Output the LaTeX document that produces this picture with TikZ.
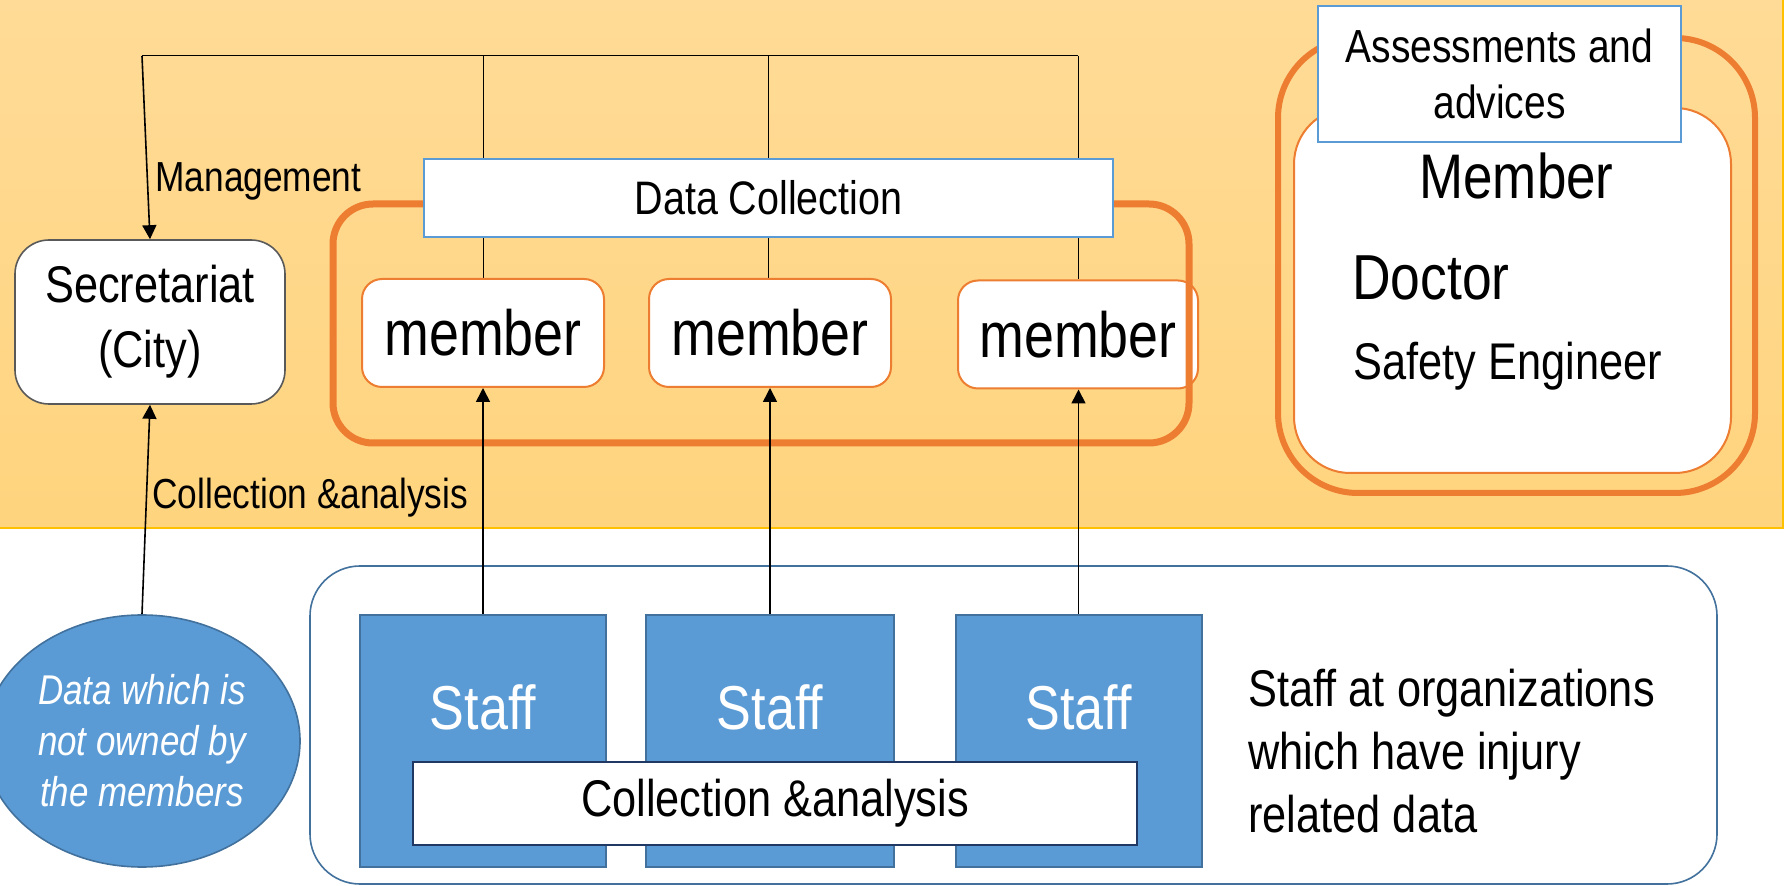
\documentclass[tikz,border=0pt]{standalone}
\usepackage{fontspec}
\setmainfont{Liberation Sans}[FakeStretch=0.84]
\usetikzlibrary{arrows.meta,shapes.geometric}
\definecolor{bgtop}{HTML}{FFDB97}
\definecolor{bgbot}{HTML}{FFD47E}
\definecolor{gold}{HTML}{FFC000}
\definecolor{orng}{HTML}{ED7D31}
\definecolor{lblue}{HTML}{5B9BD5}
\definecolor{dblue}{HTML}{41719C}
\definecolor{navy}{HTML}{203864}
\definecolor{grayb}{HTML}{595959}
\pgfdeclarelayer{back}
\pgfdeclarelayer{lines}
\pgfsetlayers{back,lines,main}
\tikzset{
  secbox/.style={draw=grayb, fill=white, line width=0.8pt, rounded corners=17pt, inner sep=0pt,
    minimum width=135pt, minimum height=82pt, align=center, font=\fontsize{25.8}{32.5}\selectfont},
  membox/.style={draw=orng, fill=white, line width=1pt, rounded corners=10pt, inner sep=0pt,
    minimum width=121pt, minimum height=54pt, font=\fontsize{32}{40}\selectfont},
  titlebox/.style={draw=lblue, fill=white, line width=1.2pt, inner sep=0pt, align=center},
  staffbox/.style={draw=dblue, fill=lblue, line width=1pt, inner sep=0pt,
    minimum width=123pt, minimum height=126pt},
  stafftext/.style={text=white, anchor=base, inner sep=0pt, font=\fontsize{31}{38}\selectfont},
  conn/.style={draw=black, line width=0.5pt},
  arr/.style={draw=black, line width=0.8pt, -{Triangle[length=7pt,width=7pt]}},
  lbl/.style={anchor=base west, inner sep=0pt},
}
\begin{document}
\begin{tikzpicture}[x=0.5pt,y=-0.5pt]
\useasboundingbox (0,0) rectangle (1787,886);
\begin{pgfonlayer}{back}
  \shade[top color=bgtop, bottom color=bgbot] (0,0) rectangle (1783,528);
  \draw[gold, line width=0.6pt] (0,528) -- (1783,528) -- (1783,0);
\end{pgfonlayer}

% left: secretariat
\node[secbox] (sec) at (150,322) {Secretariat\\(City)};

% members
\node[membox] (mem1) at (483,333) {member};
\node[membox] (mem2) at (770,333) {member};
\node[membox, minimum width=120pt] (mem3) at (1078,334.5) {member};

% big orange group frame
\node[draw=orng, line width=3.5pt, rounded corners=20pt, inner sep=0pt,
      minimum width=428pt, minimum height=119.5pt] (grpA) at (761,323.5) {};

% Data collection title
\node[titlebox, minimum width=344.5pt, minimum height=39pt, font=\fontsize{23.5}{28}\selectfont]
   (dc) at (768.5,198) {Data Collection};

% top management lines
\coordinate (tl) at (142,56);
\coordinate (b1) at (483,56);
\coordinate (b2) at (768,56);
\coordinate (b3) at (1078,56);
\begin{pgfonlayer}{lines}
  \draw[conn] (tl) -- (b3);
  \draw[conn] (b1) -- (mem1.north);
  \draw[conn] (b2) -- (b2 |- mem2.north);
  \draw[conn] (b3) -- (mem3.north);
\end{pgfonlayer}
\draw[arr] (tl) -- (sec.north);
\node[lbl, font=\fontsize{21}{27}\selectfont] (mgmt) at (155,192) {Management};

% right group
\node[draw=orng, line width=3pt, rounded corners=40pt, inner sep=0pt,
      minimum width=238.5pt, minimum height=227.5pt] (grpB) at (1516.5,265.5) {};
\node[draw=orng, fill=white, line width=1pt, rounded corners=28pt, inner sep=0pt,
      minimum width=218.5pt, minimum height=182.5pt] (inner) at (1512.5,290.5) {};
\node[titlebox, minimum width=181.5pt, minimum height=68pt, font=\fontsize{23.2}{28}\selectfont]
   (assess) at (1499.5,74) {Assessments and\\advices};
\node[lbl, font=\fontsize{31.5}{36}\selectfont] (rmember) at (1419,199) {Member};
\node[lbl, font=\fontsize{31.8}{36}\selectfont] (rdoctor) at (1352,300) {Doctor};
\node[lbl, font=\fontsize{25.8}{30}\selectfont] (rsafety) at (1353,380) {Safety Engineer};

% bottom group
\node[draw=dblue, fill=white, line width=0.8pt, rounded corners=25pt, inner sep=0pt,
      minimum width=703.5pt, minimum height=159pt] (grpC) at (1013.5,725) {};
\node[staffbox] (st1) at (483,741) {};
\node[staffbox, minimum width=124pt] (st2) at (770,741) {};
\node[staffbox] (st3) at (1078.5,741) {};
\node[stafftext] (st1t) at (483,729) {Staff};
\node[stafftext] (st2t) at (770,729) {Staff};
\node[stafftext] (st3t) at (1078.5,729) {Staff};
\node[draw=navy, fill=white, line width=1pt, inner sep=0pt, minimum width=362pt, minimum height=41.5pt,
      font=\fontsize{25.8}{31}\selectfont] (coll) at (775,803.5) {Collection \&analysis};
\node[anchor=west, align=left, inner sep=0pt, font=\fontsize{25.8}{31.5}\selectfont]
   (orgs) at (1248,751) {Staff at organizations\\which have injury\\related data};

\draw[arr] (st1.north) -- (mem1.south);
\draw[arr] (st2.north) -- (mem2.south);
\draw[arr] (st3.north) -- (st3.north |- mem3.south);

% ellipse
\node[ellipse, draw=dblue, fill=lblue, line width=0.8pt, inner sep=0pt, minimum width=158pt, minimum height=126pt,
      text=white, align=center, font=\itshape\fontsize{20.8}{25.5}\selectfont]
   (ell) at (142,741) {Data which is\\not owned by\\the members};
\draw[arr] (ell.north) -- (sec.south);
\node[lbl, font=\fontsize{21}{25}\selectfont] (colllbl) at (152,509) {Collection \&analysis};
\end{tikzpicture}
\end{document}
